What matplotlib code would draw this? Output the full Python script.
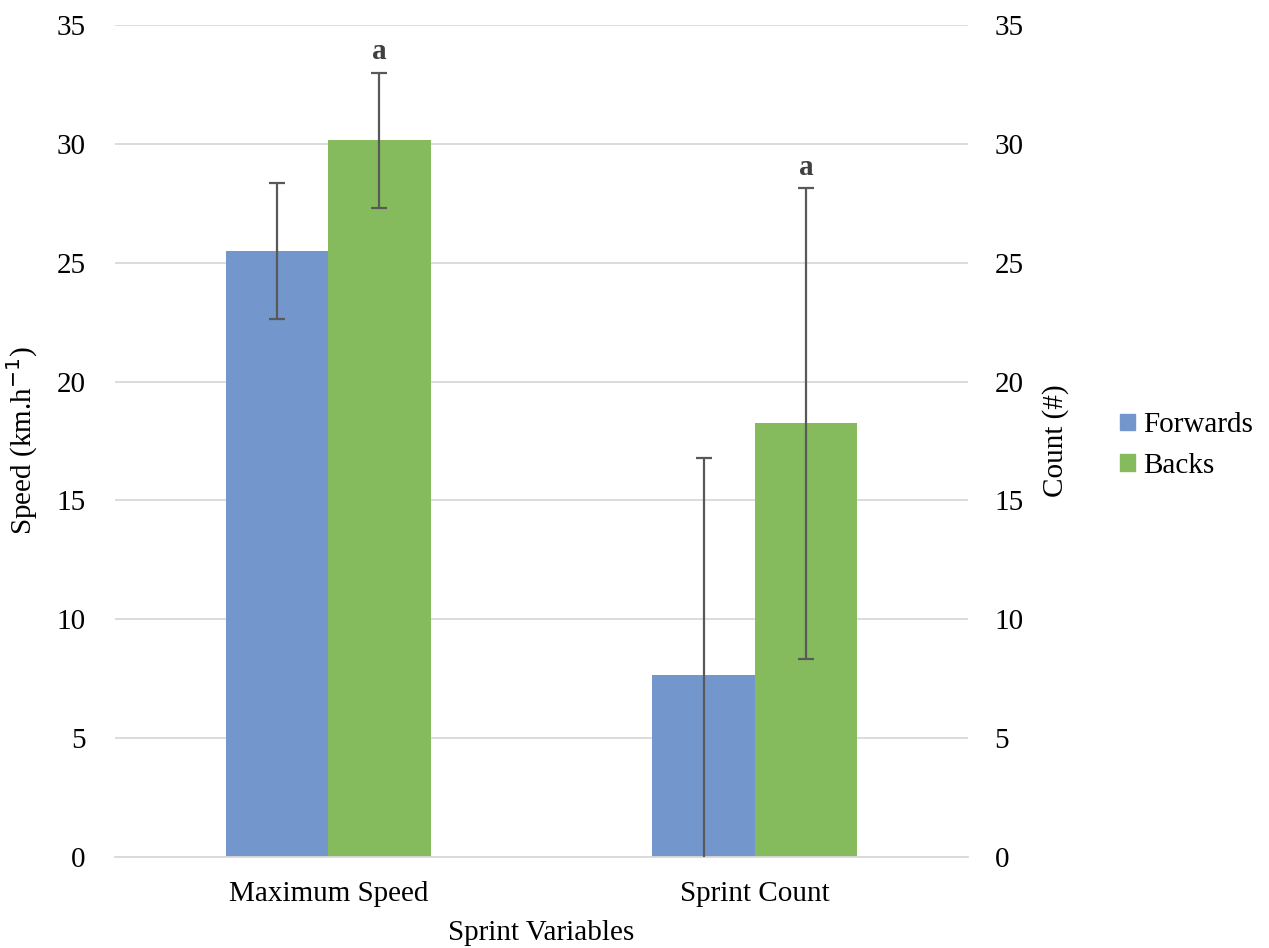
import numpy as np
import matplotlib.pyplot as plt
from matplotlib.patches import Patch

categories = ['Maximum Speed', 'Sprint Count']
series = ['Forwards', 'Backs']
forwards_mean = [25.5, 7.65]
forwards_err = [2.87, 9.13]
backs_mean = [30.15, 18.25]
backs_err = [2.85, 9.9]
sig_labels = ['a', 'a']
yticks = [0, 5, 10, 15, 20, 25, 30, 35]

colors = ['#7396CC', '#85BB5C']
err_color = '#595959'

plt.rcParams['font.family'] = ['Liberation Serif', 'DejaVu Serif']
fs = 21

fig = plt.figure(figsize=(12.69, 9.48), dpi=100)
ax = fig.add_axes([115 / 1269, 91 / 948, (968 - 115) / 1269, (857 - 25) / 948])

x = np.arange(len(categories))
w = 0.24
ax.bar(x - w / 2, forwards_mean, w, color=colors[0], zorder=2)
ax.bar(x + w / 2, backs_mean, w, color=colors[1], zorder=2)
ax.errorbar(x - w / 2, forwards_mean, yerr=forwards_err, fmt='none',
            ecolor=err_color, elinewidth=1.6, capsize=6, capthick=1.6, zorder=3)
ax.errorbar(x + w / 2, backs_mean, yerr=backs_err, fmt='none',
            ecolor=err_color, elinewidth=1.6, capsize=6, capthick=1.6, zorder=3)

# significance markers above the Backs bars
for xi, m, e, s in zip(x + w / 2, backs_mean, backs_err, sig_labels):
    ax.text(xi, m + e + 0.3, s, ha='center', va='bottom', fontsize=21,
            fontweight='bold', color='#404040')

ax.set_xlim(-0.5, 1.5)
ax.set_ylim(0, 35)
ax.set_yticks(yticks)
ax.set_xticks(x)
ax.set_xticklabels(categories)
ax.grid(axis='y', color='#D9D9D9', linewidth=1.3, zorder=0)
ax.set_axisbelow(True)
for sp in ['top', 'left', 'right']:
    ax.spines[sp].set_visible(False)
ax.spines['bottom'].set_color('#D9D9D9')
ax.spines['bottom'].set_linewidth(1.3)
ax.tick_params(axis='y', length=0, labelsize=fs, pad=21)
ax.tick_params(axis='x', length=0, labelsize=fs, pad=17)
ax.set_ylabel('Speed (km.h$^{\\mathrm{-1}}$)', fontsize=fs, labelpad=12)
ax.set_xlabel('Sprint Variables', fontsize=fs, labelpad=10)

ax2 = ax.twinx()
ax2.set_ylim(0, 35)
ax2.set_yticks(yticks)
for sp in ['top', 'left', 'right', 'bottom']:
    ax2.spines[sp].set_visible(False)
ax2.tick_params(axis='y', length=0, labelsize=fs, pad=19)
ax2.set_ylabel('Count (#)', fontsize=fs, labelpad=13)

handles = [Patch(color=c, label=s) for c, s in zip(colors, series)]
fig.legend(handles=handles, loc='center left', bbox_to_anchor=(1094 / 1269, 0.53),
           frameon=False, fontsize=fs, handlelength=0.5, handleheight=0.5,
           handletextpad=0.3, labelspacing=0.5)

fig.savefig('out.png', dpi=100)
